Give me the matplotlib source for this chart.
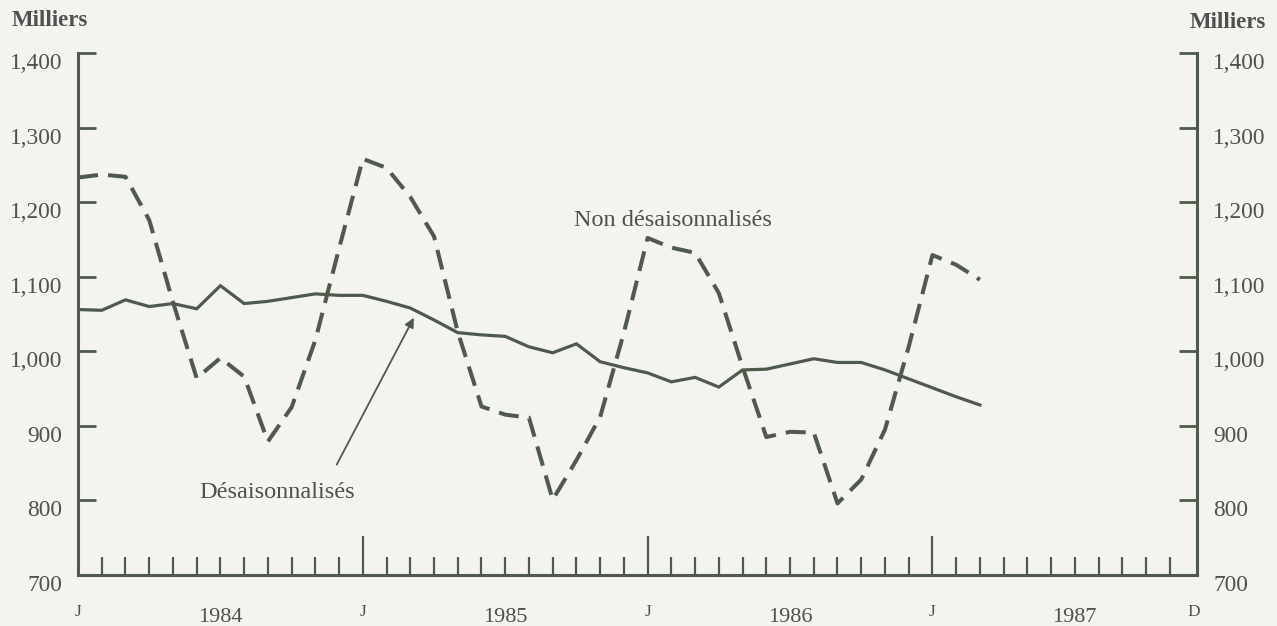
import matplotlib.pyplot as plt

# donnees mensuelles, janvier 1984 a mars 1987 (milliers)
mois = list(range(39))
desaisonnalises = [1056, 1055, 1069, 1060, 1064, 1057, 1088, 1064, 1067, 1072,
                   1077, 1075, 1075, 1067, 1058, 1042, 1025, 1022, 1020, 1006,
                   998, 1010, 986, 978, 971, 959, 965, 952, 975, 976,
                   983, 990, 985, 985, 975, 963, 951, 939, 928]
non_desaisonnalises = [1233, 1237, 1234, 1176, 1066, 964, 991, 966, 879, 925,
                       1015, 1138, 1258, 1246, 1207, 1154, 1026, 926, 915, 911,
                       801, 854, 912, 1025, 1152, 1139, 1132, 1078, 979, 885,
                       892, 891, 796, 828, 895, 1006, 1129, 1116, 1096]

yticks = [700, 800, 900, 1000, 1100, 1200, 1300, 1400]
ytick_labels = ['700', '800', '900', '1,000', '1,100', '1,200', '1,300', '1,400']
annees = ['1984', '1985', '1986', '1987']
mois_labels = ['J', 'J', 'J', 'J', 'D']
mois_labels_pos = [0, 12, 24, 36, 47]

couleur = '#4f5a4c'
texte = '#505050'
fond = '#f3f3ef'
plt.rcParams['font.family'] = ['Liberation Serif', 'DejaVu Serif']

fig = plt.figure(figsize=(12.77, 6.26), dpi=100, facecolor=fond)
ax = fig.add_axes([0.0611, 0.0815, 0.8763, 0.8338])
ax.set_facecolor(fond)

ax.plot(mois, desaisonnalises, color=couleur, lw=2.3, solid_joinstyle='miter')
ax.plot(mois, non_desaisonnalises, color=couleur, lw=2.9, dashes=(5, 2.5))

ax.set_xlim(0, 47.15)
ax.set_ylim(700, 1400)

# axes
for s in ['left', 'right', 'bottom']:
    ax.spines[s].set_color(couleur)
    ax.spines[s].set_linewidth(2.2)
ax.spines['top'].set_visible(False)

ax.set_yticks(yticks)
ax.set_yticklabels(ytick_labels)
ax.tick_params(axis='y', direction='in', length=13, width=2, color=couleur,
               left=True, right=True, labelleft=True, labelright=True,
               labelsize=16.8, labelcolor=texte, pad=11.5)
for lab in ax.get_yticklabels():
    lab.set_verticalalignment('top')

# graduations mensuelles
ax.set_xticks([12, 24, 36])
ax.set_xticks([m for m in range(1, 47) if m % 12 != 0], minor=True)
ax.tick_params(axis='x', which='major', direction='in', length=28, width=1.6,
               color=couleur, labelbottom=False)
ax.tick_params(axis='x', which='minor', direction='in', length=13, width=1.6,
               color=couleur)

for p, l in zip(mois_labels_pos, mois_labels):
    ax.text(p, -0.07, l, transform=ax.get_xaxis_transform(), ha='center',
            va='center', fontsize=12.5, color=texte)
for i, a in enumerate(annees):
    ax.text(6 + 12 * i, -0.082, a, transform=ax.get_xaxis_transform(),
            ha='center', va='center', fontsize=16, color=texte)

# titres des axes
fig.text(0.009, 0.968, 'Milliers', fontsize=16.5, fontweight='bold',
         color=texte, ha='left', va='center')
fig.text(0.991, 0.964, 'Milliers', fontsize=16.5, fontweight='bold',
         color=texte, ha='right', va='center')

# annotations
ax.text(20.9, 1176, 'Non désaisonnalisés', fontsize=17.5, color=texte,
        ha='left', va='center')
ax.text(5.1, 810, 'Désaisonnalisés', fontsize=17.5, color=texte,
        ha='left', va='center')
ax.annotate('', xy=(14.15, 1045), xytext=(10.9, 848),
            arrowprops=dict(arrowstyle='-|>', color=couleur, lw=1.3,
                            mutation_scale=14, shrinkA=0, shrinkB=0))

plt.savefig('out.png', dpi=100, facecolor=fond)
